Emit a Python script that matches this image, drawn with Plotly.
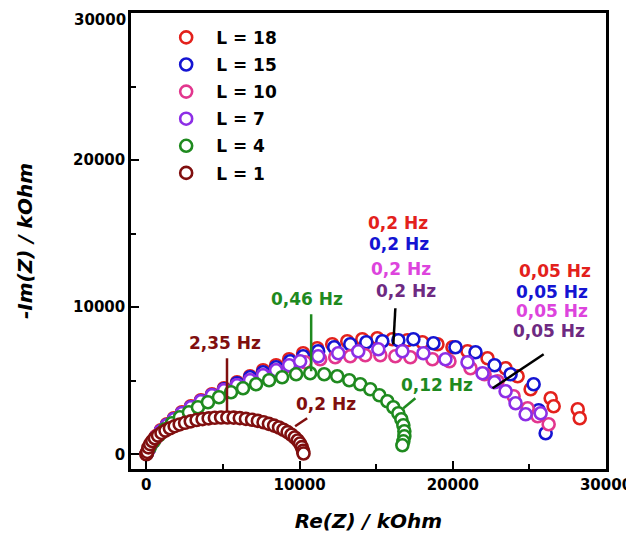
import plotly.graph_objects as go

# Nyquist data (Re, -Im in kOhm)
re_18 = [33, 164, 360, 621, 948, 1341, 1799, 2322, 2910, 3564, 4284, 5069, 5919, 6769, 7619, 8469,
         9320, 10235, 11151, 12132, 13113, 14094, 15075, 16056, 17037, 18018, 18999, 19980, 20961,
         22269, 23446, 24231, 25081, 26389, 26585, 28155, 28286]
im_18 = [68, 408, 816, 1224, 1632, 2040, 2448, 2856, 3264, 3672, 4080, 4488, 4896, 5304, 5712, 6052,
         6460, 6868, 7208, 7480, 7684, 7820, 7888, 7820, 7752, 7616, 7480, 7276, 7004,
         6528, 5848, 5304, 4420, 3808, 3264, 3060, 2448]

re_15 = [33, 164, 360, 621, 948, 1341, 1799, 2322, 2910, 3564, 4284, 5069, 5919, 6769, 7619, 8469,
         9385, 10235, 11216, 12263, 13309, 14356, 15402, 16448, 17429, 18737, 20176, 21484, 22727,
         23773, 25277, 25604, 26062]
im_15 = [68, 340, 748, 1156, 1564, 1972, 2380, 2788, 3196, 3604, 4012, 4420, 4828, 5236, 5576, 5916,
         6324, 6664, 7004, 7276, 7480, 7616, 7684, 7752, 7820, 7548, 7276, 6936, 6052,
         5440, 4760, 2992, 1428]

re_10 = [33, 164, 360, 621, 948, 1341, 1799, 2322, 2910, 3564, 4284, 5069, 5919, 6769, 7619, 8469,
         9385, 10366, 11347, 12328, 13309, 14290, 15271, 16252, 17233, 18672, 19784, 21157, 22073,
         22923, 23970, 24885, 25539, 26258]
im_10 = [68, 340, 748, 1088, 1496, 1904, 2312, 2720, 3128, 3536, 3944, 4352, 4692, 5032, 5372, 5712,
         5984, 6256, 6460, 6596, 6664, 6732, 6732, 6664, 6596, 6460, 6324, 5848, 5440,
         4964, 3944, 3128, 2584, 2040]

re_7 = [33, 164, 360, 621, 948, 1341, 1799, 2322, 2910, 3564, 4284, 5069, 5919, 6769, 7619, 8469,
        9320, 10039, 11216, 12524, 13832, 15140, 16710, 18083, 19522, 20961, 21942, 22727, 23446,
        24100, 24754, 25735]
im_7 = [68, 340, 748, 1156, 1564, 1972, 2380, 2788, 3196, 3604, 4012, 4352, 4692, 5032, 5372, 5712,
        6052, 6324, 6664, 6868, 7004, 7140, 7004, 6868, 6460, 6256, 5508, 4896, 4284,
        3468, 2720, 2788]

re_4 = [33, 229, 490, 818, 1210, 1668, 2191, 2780, 3368, 4022, 4741, 5526, 6311, 7161, 8012, 8862,
        9777, 10693, 11609, 12459, 13244, 13963, 14617, 15206, 15729, 16121, 16448, 16644, 16775,
        16840, 16840, 16775, 16710]
im_4 = [68, 476, 884, 1292, 1700, 2108, 2516, 2856, 3196, 3536, 3876, 4216, 4488, 4760, 5032, 5236,
        5440, 5508, 5440, 5304, 5032, 4760, 4420, 4012, 3604, 3196, 2788, 2380, 1972,
        1564, 1224, 884, 612]

re_1 = [0, 60, 140, 250, 390, 560, 760, 990, 1250, 1540, 1850, 2180, 2530, 2900, 3280, 3670, 4070,
        4470, 4880, 5290, 5700, 6100, 6500, 6900, 7280, 7650, 8000, 8340, 8660, 8950, 9220, 9470,
        9690, 9880, 10030, 10150, 10230, 10260]
im_1 = [0, 160, 470, 690, 900, 1090, 1270, 1450, 1610, 1770, 1910, 2030, 2140, 2240, 2330, 2390, 2440,
        2480, 2500, 2500, 2490, 2460, 2410, 2350, 2270, 2180, 2070, 1950, 1820, 1670, 1510, 1330,
        1140, 940, 730, 490, 230, 50]

names = ['L = 18', 'L = 15', 'L = 10', 'L = 7', 'L = 4', 'L = 1']
colors = ['#e3211c', '#1414d2', '#e2368e', '#8d2ee6', '#1f8a1f', '#800f0f']
series = [(re_18, im_18), (re_15, im_15), (re_10, im_10), (re_7, im_7), (re_4, im_4), (re_1, im_1)]

y_ticks = [0, 10000, 20000]
y_top = 30000

FONT = 'DejaVu Sans'

fig = go.Figure()
for (xs, ys), name, c in zip(series, names, colors):
    fig.add_trace(go.Scatter(x=xs, y=ys, name=name, mode='markers', legendgroup=name,
                             marker=dict(symbol='circle', size=12, color='white',
                                         line=dict(color=c, width=2.6))))

# frequency labels
labels = [
    ('2,35 Hz', 5134, 7548, '#800f0f'),
    ('0,46 Hz', 10497, 10540, '#1f8a1f'),
    ('0,2 Hz', 11739, 3400, '#800f0f'),
    ('0,12 Hz', 19000, 4692, '#1f8a1f'),
    ('0,2 Hz', 16448, 15708, '#e3211c'),
    ('0,2 Hz', 16514, 14280, '#1414d2'),
    ('0,2 Hz', 16644, 12580, '#dd44dd'),
    ('0,2 Hz', 16971, 11084, '#6e2a82'),
    ('0,05 Hz', 26650, 12444, '#e3211c'),
    ('0,05 Hz', 26454, 11016, '#1414d2'),
    ('0,05 Hz', 26454, 9724, '#dd44dd'),
    ('0,05 Hz', 26258, 8364, '#6e2a82'),
]
for txt, x, y, c in labels:
    fig.add_annotation(x=x, y=y, text=txt, showarrow=False,
                       font=dict(family=FONT, size=17, color=c, weight='bold'))

# top y tick label sits at the page edge, plotly would drop it, so write it as text
fig.add_annotation(x=0, xref='paper', y=y_top, yref='y', text=str(y_top), showarrow=False,
                   xanchor='right', yanchor='top', xshift=-3, yshift=4,
                   font=dict(family=FONT, size=15, color='black', weight='bold'))

# pointer lines
pointers = [
    (5265, 6528, 5265, 2924, '#800f0f'),
    (10758, 9520, 10758, 5644, '#1f8a1f'),
    (9712, 1904, 10497, 2448, '#800f0f'),
    (17560, 3808, 16775, 3128, '#1f8a1f'),
    (16252, 9928, 16121, 7480, 'black'),
    (25931, 6800, 22596, 4488, 'black'),
]
for x0, y0, x1, y1, c in pointers:
    fig.add_shape(type='line', x0=x0, y0=y0, x1=x1, y1=y1, xref='x', yref='y',
                  line=dict(color=c, width=2.5))

axis_common = dict(showgrid=False, zeroline=False, showline=True, linecolor='black', linewidth=2.5,
                   mirror=True, ticks='inside', ticklen=8, tickwidth=2, tickcolor='black',
                   tickformat='d', automargin=False,
                   minor=dict(dtick=5000, ticks='inside', ticklen=5, tickwidth=2, tickcolor='black'),
                   tickfont=dict(family=FONT, size=15, color='black', weight='bold'))

fig.update_xaxes(range=[-1000, 30000], dtick=10000, tick0=0,
                 title=dict(text='Re(Z) / kOhm', standoff=22,
                            font=dict(family=FONT, size=20, color='black', weight='bold', style='italic')),
                 **axis_common)
fig.update_yaxes(range=[-1000, 30000], tickvals=y_ticks,
                 title=dict(text='-Im(Z) / kOhm', standoff=36,
                            font=dict(family=FONT, size=20, color='black', weight='bold', style='italic')),
                 **axis_common)

# the page body adds an 8 px offset, so margins are shifted to compensate
fig.update_layout(
    width=634, height=540,
    margin=dict(l=123, r=36, t=5, b=79),
    plot_bgcolor='white', paper_bgcolor='white',
    legend=dict(x=0.053, y=0.985, xanchor='left', yanchor='top', bgcolor='rgba(0,0,0,0)',
                itemwidth=50, tracegroupgap=2,
                font=dict(family=FONT, size=17, color='black', weight='bold')),
)

fig.write_html("out.html")
